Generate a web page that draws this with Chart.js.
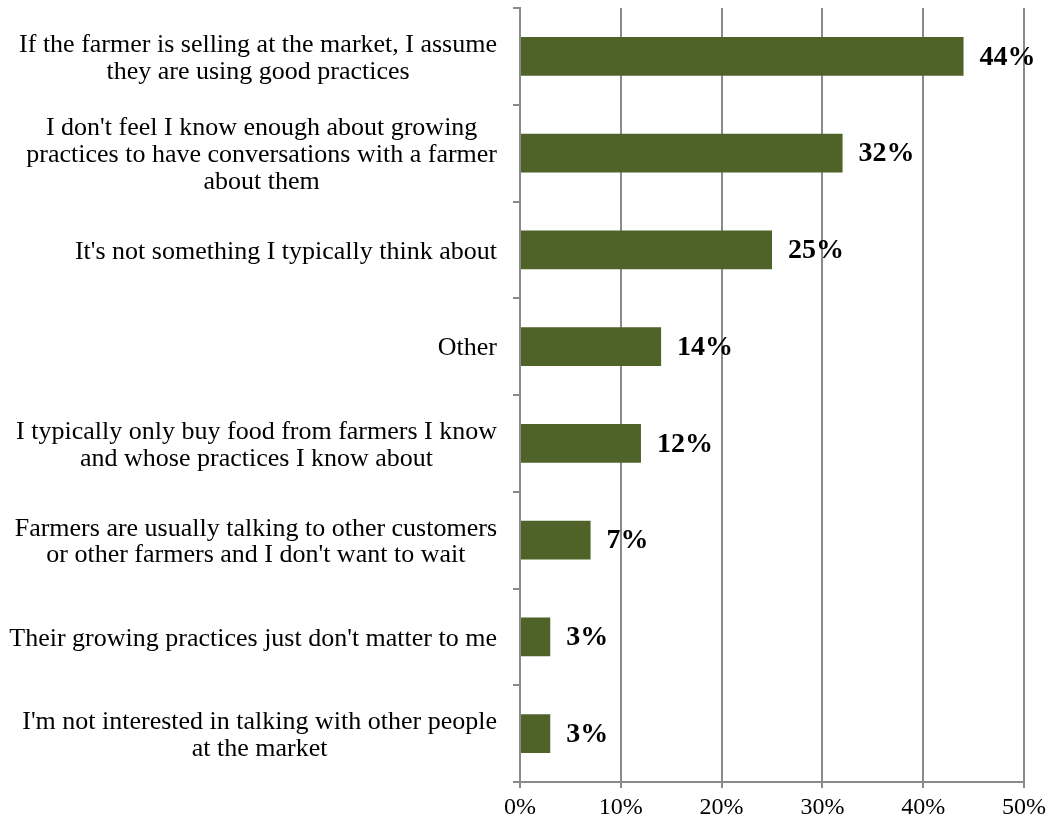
<!DOCTYPE html>
<html>
<head>
<meta charset="utf-8">
<script src="https://cdn.jsdelivr.net/npm/chart.js@4"></script>
<style>
  html, body { margin: 0; padding: 0; background: #ffffff; }
  #wrap { width: 1049px; height: 824px; position: relative; }
</style>
</head>
<body>
<div id="wrap"><canvas id="c" width="1049" height="824"></canvas></div>
<script>
const categories = [
  ["If the farmer is selling at the market, I assume", "they are using good practices"],
  ["I don't feel I know enough about growing", "practices to have conversations with a farmer", "about them"],
  ["It's not something I typically think about"],
  ["Other"],
  ["I typically only buy food from farmers I know", "and whose practices I know about"],
  ["Farmers are usually talking to other customers", "or other farmers and I don't want to wait"],
  ["Their growing practices just don't matter to me"],
  ["I'm not interested in talking with other people", "at the market"]
];
const values = [44, 32, 25, 14, 12, 7, 3, 3];
const xTicks = [0, 10, 20, 30, 40, 50];

const FONT = "'Liberation Serif', 'Times New Roman', serif";
const GRID = '#8a8a8a';

const labelPlugin = {
  id: 'customLabels',
  afterDraw(chart) {
    const ctx = chart.ctx;
    const yScale = chart.scales.y;
    const xScale = chart.scales.x;
    ctx.save();
    // category labels: block right-aligned, lines centered within block
    ctx.font = '26px ' + FONT;
    ctx.fillStyle = '#000000';
    ctx.textAlign = 'center';
    ctx.textBaseline = 'middle';
    const lh = 26.7;
    const right = yScale.right - 23;
    categories.forEach((lines, i) => {
      const cy = yScale.getPixelForValue(i);
      const w = Math.max(...lines.map(l => ctx.measureText(l).width));
      const cx = right - w / 2;
      const top = cy - (lines.length - 1) * lh / 2 + 2;
      lines.forEach((l, j) => ctx.fillText(l, cx, top + j * lh));
    });
    // value labels
    ctx.font = 'bold 28px ' + FONT;
    ctx.textAlign = 'left';
    const meta = chart.getDatasetMeta(0);
    values.forEach((v, i) => {
      const bar = meta.data[i];
      ctx.fillText(v + '%', xScale.getPixelForValue(v) + 16, bar.y + 1);
    });
    ctx.restore();
  }
};

new Chart(document.getElementById('c'), {
  type: 'bar',
  data: {
    labels: categories.map(l => l.join(' ')),
    datasets: [{
      data: values,
      backgroundColor: '#4F6228',
      borderWidth: 0,
      barPercentage: 0.4,
      categoryPercentage: 1.0
    }]
  },
  options: {
    indexAxis: 'y',
    responsive: false,
    animation: false,
    devicePixelRatio: 1,
    layout: { padding: { top: 8, right: 25, left: 0, bottom: 0 } },
    plugins: {
      legend: { display: false },
      tooltip: { enabled: false }
    },
    scales: {
      x: {
        min: 0,
        max: 50,
        afterBuildTicks(scale) { scale.ticks = xTicks.map(v => ({ value: v })); },
        afterFit(scale) { scale.height = 42; scale.paddingRight = 20; scale.paddingLeft = 0; },
        ticks: {
          callback: v => v + '%',
          color: '#000000',
          font: { family: FONT, size: 24 },
          padding: 5,
          maxRotation: 0
        },
        grid: {
          color: GRID,
          lineWidth: 2,
          drawTicks: true,
          tickLength: 6
        },
        border: { color: GRID, width: 2 }
      },
      y: {
        afterFit(scale) { scale.width = 520; },
        ticks: { display: false },
        grid: {
          offset: true,
          drawOnChartArea: false,
          drawTicks: true,
          tickLength: 7,
          color: GRID,
          lineWidth: 2
        },
        border: { color: GRID, width: 2 }
      }
    }
  },
  plugins: [labelPlugin]
});
</script>
</body>
</html>
